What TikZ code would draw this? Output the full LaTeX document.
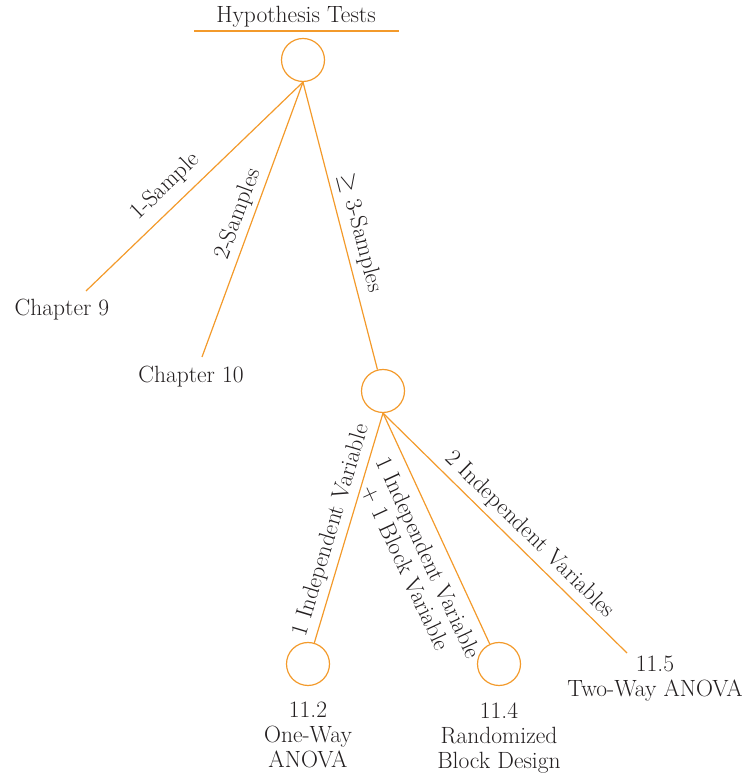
\documentclass[tikz,border=0pt]{standalone}
\usetikzlibrary{positioning}
\definecolor{hOrange}{HTML}{F39A2B}
\definecolor{hText}{HTML}{231F20}
\tikzset{
  branch/.style = {hOrange, line width=1.2pt},
  choice/.style = {circle, draw=hOrange, line width=1.2pt, minimum size=43pt, inner sep=0pt},
  lbl/.style    = {font=\fontsize{23.5}{25}\selectfont, text=hText, inner sep=2pt, align=center},
  elbl/.style   = {lbl, sloped},
}

\begin{document}
\begin{tikzpicture}[x=1pt,y=1pt]
  \useasboundingbox (0,0) rectangle (746,774);
  % title
  \node[lbl, anchor=base] (title) at (296,751) {Hypothesis Tests};
  \draw[branch] (194,743) -- (399,743);
  % decision circles
  \node[choice] (root)   at (303,714) {};
  \node[choice] (mid)    at (383,383) {};
  \node[choice] (oneway) at (308,110) {};
  \node[choice] (block)  at (499,110) {};
  % leaves
  \coordinate (c9)   at (86,483);
  \coordinate (c10)  at (202,417);
  \coordinate (c115) at (627,121);
  \node[lbl, anchor=base]  (ch9)    at (62,458)  {Chapter 9};
  \node[lbl, anchor=base]  (ch10)   at (191,391) {Chapter 10};
  \node[lbl, anchor=north] (twoway) at (655,120) {11.5\\Two-Way ANOVA};
  \node[lbl, below=14pt of oneway] (anova) {11.2\\One-Way\\ANOVA};
  \node[lbl, below=14pt of block]  (rbd)   {11.4\\Randomized\\Block Design};
  % top branches
  \draw[branch] (root.south) -- node[elbl, above=7pt, pos=0.57] {1-Sample} (c9);
  \draw[branch] (root.south) -- node[elbl, above=2pt, pos=0.50] {2-Samples} (c10);
  \draw[branch] (root.south) -- node[elbl, above=4pt, pos=0.54] {$\geq$ 3-Samples} (mid);
  % lower branches
  \draw[branch] (mid.south) -- node[elbl, above=3pt, pos=0.53] {1 Independent Variable} (oneway);
  \draw[branch] (mid.south) -- node[elbl, below=8pt, pos=0.59] {1 Independent Variable\\+ 1 Block Variable} (block);
  \draw[branch] (mid.south) -- node[elbl, above=3pt, pos=0.555] {2 Independent Variables} (c115);
\end{tikzpicture}
\end{document}
